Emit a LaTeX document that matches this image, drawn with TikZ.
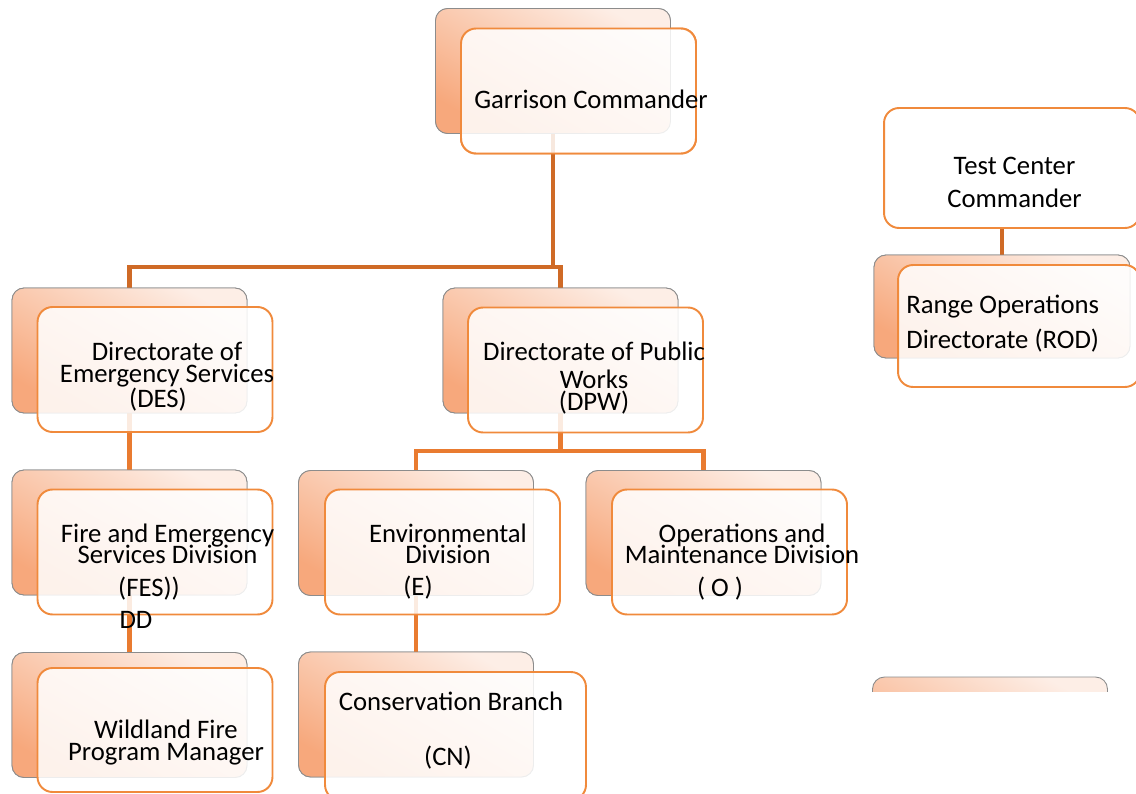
\documentclass[tikz,border=0pt]{standalone}
\usepackage{fontspec}
\setmainfont{Carlito}
\usepackage{xcolor}
\usepackage{tikz}
\usetikzlibrary{positioning,calc}

\definecolor{peachdk}{HTML}{F7A87C}
\definecolor{peachlt}{HTML}{FDEEE6}
\definecolor{boxedge}{HTML}{8C8C8C}
\definecolor{frontor}{HTML}{F08A3C}
\definecolor{linkdk}{HTML}{CF6A26}
\definecolor{linkor}{HTML}{E97B30}

\begin{document}
\begin{tikzpicture}[x=0.02cm, y=-0.02cm,
  backbox/.style={draw=boxedge, line width=0.5pt, rounded corners=0.24cm,
    top color=peachlt, bottom color=peachdk, shading angle=-30,
    minimum width=4.7cm, minimum height=2.5cm, inner sep=0pt},
  frontbox/.style={draw=frontor, line width=1.1pt, rounded corners=0.3cm,
    fill=white, fill opacity=0.85,
    minimum width=4.7cm, minimum height=2.5cm, inner sep=0pt},
  toplink/.style={draw=linkdk, line width=2.7pt},
  sublink/.style={draw=linkor, line width=2.7pt},
  txt/.style={font=\fontsize{15.2pt}{18pt}\selectfont, inner sep=0pt, anchor=base},
  pair/.style={txt, align=center,
    font={\fontsize{15.2pt}{#1}\selectfont\lineskiplimit=-50pt}}]
\useasboundingbox (0,0) rectangle (1136,794);
% bus lines under the two rows of directorates / divisions
\coordinate (busA) at (0,267);
\coordinate (busB) at (0,451);
% back boxes (positions first, links are drawn under them)
\path (553,71) node[backbox] (gcB) {};
\path (1002,306.5) node[backbox, minimum width=5.12cm, minimum height=2.06cm] (rodB) {};
\path (129.5,350.5) node[backbox] (desB) {};
\path (560.5,350.5) node[backbox] (dpwB) {};
\path (129.5,532.5) node[backbox] (fesB) {};
\path (416,533) node[backbox] (envB) {};
\path (703.5,533) node[backbox] (omB) {};
\path (129.5,715) node[backbox] (wfB) {};
\path (416,714.5) node[backbox] (conB) {};
% front boxes
\node[frontbox] (gcF) at (578.5,91) {};
\node[frontbox, minimum width=5.12cm, minimum height=2.4cm] (tcF) at (1012,168) {};
% connectors
\draw[toplink] (gcB.south) -- (gcB.south |- busA);
\draw[toplink] (desB.north) |- (busA -| dpwB.north) -- (dpwB.north);
\draw[sublink] (desB.south) -- (fesB.north);
\draw[sublink] (fesB.south) -- (wfB.north);
\draw[sublink] (dpwB.south) -- (dpwB.south |- busB);
\draw[sublink] (envB.north) |- (busB -| omB.north) -- (omB.north);
\draw[sublink] (envB.south) -- (conB.north);
\draw[toplink] (rodB.north |- tcF.south) -- (rodB.north);
% redraw back boxes over the link ends
\node[backbox] at (gcB) {};
\node[backbox, minimum width=5.12cm, minimum height=2.06cm] at (rodB) {};
\foreach \b in {desB,dpwB,fesB,envB,omB,wfB,conB}
  \node[backbox] at (\b) {};
% partly hidden box, bottom right
\begin{scope}
\clip (860,670) rectangle (1120,691);
\node[backbox] (lastB) at (990,739.5) {};
\end{scope}
% front boxes
\node[frontbox] at (gcF) {};
\node[frontbox, minimum width=4.84cm, minimum height=2.44cm] (rodF) at (1019,326) {};
\node[frontbox] (desF) at (155,369.5) {};
\node[frontbox] (dpwF) at (585.5,370) {};
\node[frontbox] (fesF) at (155,552) {};
\node[frontbox] (envF) at (442.5,552) {};
\node[frontbox] (omF) at (729.5,552) {};
\node[frontbox, minimum height=2.48cm] (wfF) at (155,730) {};
\node[frontbox, minimum width=5.22cm, minimum height=2.56cm] (conF) at (455.5,736) {};
% texts (base = baseline of the last line)
\node[txt] (gcT) at (591,109) {Garrison Commander};
\node[pair=18.7pt] (tcT) at (1014.5,207) {Test Center\\Commander};
\node[pair=19.8pt, align=left, anchor=base west] (rodT) at (906,348) {Range Operations\\Directorate (ROD)};
\node[pair=12.5pt] (desT) at (167,382) {Directorate of\\Emergency Services};
\node[txt] (desT3) at (158,407) {(DES)};
\node[pair=12.5pt] (dpwT) at (594,410) {Directorate of Public\\[3.4pt]Works\\(DPW)};
\node[pair=11.9pt] (fesT) at (167.5,563) {Fire and Emergency\\Services Division};
\node[txt] (fesT3) at (149,596) {(FES))};
\node[txt] (ddT) at (136,628) {DD};
\node[pair=11.9pt] (envT) at (448,563) {Environmental\\Division};
\node[txt] (envT3) at (418,595) {(E)};
\node[pair=11.9pt] (omT) at (742,563) {Operations and\\Maintenance Division};
\node[txt] (omT3) at (720,596) {( O )};
\node[pair=12.5pt] (wfT) at (166,760) {Wildland Fire\\Program Manager};
\node[txt] (conT1) at (451,710) {Conservation Branch};
\node[txt] (conT2) at (448,765) {(CN)};
\end{tikzpicture}
\end{document}
